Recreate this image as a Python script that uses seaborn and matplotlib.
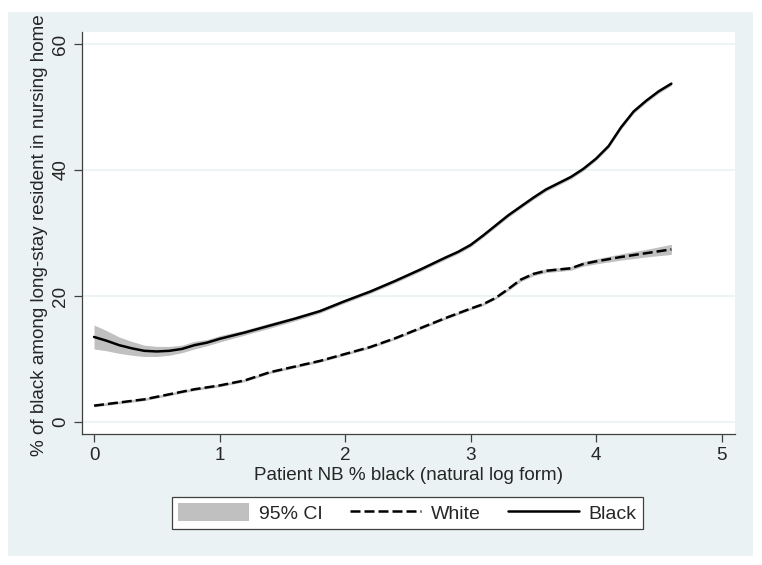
import numpy as np
import pandas as pd
import matplotlib
matplotlib.use("Agg")
import matplotlib.pyplot as plt
from matplotlib.patches import Rectangle, Patch
from matplotlib.lines import Line2D
import seaborn as sns

# ---- data ----
x_black = [0.0, 0.1, 0.2, 0.3, 0.4, 0.5, 0.6, 0.7, 0.8, 0.9, 1.0, 1.2, 1.4, 1.6, 1.8,
           2.0, 2.2, 2.4, 2.6, 2.8, 2.9, 3.0, 3.1, 3.2, 3.3, 3.4, 3.5, 3.6, 3.7, 3.8, 3.9,
           4.0, 4.1, 4.2, 4.3, 4.4, 4.5, 4.6]
y_black = [13.5, 12.9, 12.2, 11.7, 11.3, 11.2, 11.3, 11.6, 12.2, 12.6, 13.2, 14.2, 15.3, 16.4, 17.6,
           19.2, 20.7, 22.4, 24.2, 26.1, 27.0, 28.1, 29.6, 31.2, 32.8, 34.2, 35.6, 36.9, 37.9, 38.9, 40.2,
           41.8, 43.8, 46.8, 49.3, 51.0, 52.5, 53.7]
ci_black = [1.9, 1.6, 1.3, 1.1, 0.9, 0.8, 0.7, 0.6, 0.6, 0.5, 0.5, 0.4, 0.4, 0.35, 0.3,
            0.3, 0.3, 0.3, 0.3, 0.3, 0.3, 0.3, 0.3, 0.3, 0.3, 0.3, 0.3, 0.3, 0.3, 0.3, 0.3,
            0.3, 0.3, 0.3, 0.3, 0.3, 0.3, 0.3]

x_white = [0.0, 0.2, 0.4, 0.6, 0.8, 1.0, 1.2, 1.4, 1.6, 1.8, 2.0, 2.2, 2.4, 2.6, 2.8,
           3.0, 3.1, 3.2, 3.3, 3.4, 3.5, 3.6, 3.7, 3.8, 3.9, 4.0, 4.2, 4.4, 4.6]
y_white = [2.6, 3.1, 3.6, 4.4, 5.2, 5.8, 6.6, 7.9, 8.8, 9.7, 10.8, 11.9, 13.3, 14.9, 16.5,
           18.0, 18.7, 19.7, 21.1, 22.6, 23.5, 24.0, 24.2, 24.4, 25.1, 25.5, 26.2, 26.8, 27.4]
ci_white = [0.2, 0.2, 0.2, 0.2, 0.2, 0.2, 0.2, 0.2, 0.2, 0.2, 0.2, 0.2, 0.2, 0.2, 0.2,
            0.2, 0.2, 0.2, 0.25, 0.3, 0.3, 0.3, 0.3, 0.3, 0.35, 0.4, 0.5, 0.6, 0.8]

legend_labels = ["95% CI", "White", "Black"]
x_ticks = [0, 1, 2, 3, 4, 5]
y_ticks = [0, 20, 40, 60]
x_title = "Patient NB % black (natural log form)"
y_title = "% of black among long-stay resident in nursing home"

df = pd.concat([
    pd.DataFrame({"x": x_white, "y": y_white, "ci": ci_white, "group": "White"}),
    pd.DataFrame({"x": x_black, "y": y_black, "ci": ci_black, "group": "Black"}),
], ignore_index=True)

# ---- style ----
sns.set_style("white")
plt.rcParams["font.family"] = ["Liberation Sans", "DejaVu Sans"]
BG = "#EAF2F3"
BAND = "#C0C0C0"
FS = 13.6
FS_LEG = 14

fig = plt.figure(figsize=(7.62, 5.65), dpi=100, facecolor="white")
W, H = 762, 565
bg = Rectangle((8 / W, 1 - 556 / H), (753 - 8) / W, (556 - 12) / H,
               transform=fig.transFigure, facecolor=BG, edgecolor="none", zorder=-10)
fig.patches.append(bg)

ax = fig.add_axes([82 / W, 1 - 434 / H, (735 - 82) / W, (434 - 32) / H])
ax.set_zorder(1)
ax.set_facecolor("white")

# confidence bands
for g in ["White", "Black"]:
    d = df[df.group == g]
    ax.fill_between(d.x, d.y - d.ci, d.y + d.ci, color=BAND, linewidth=0, zorder=2)

sns.lineplot(data=df, x="x", y="y", hue="group", style="group",
             palette={"White": "black", "Black": "black"},
             dashes={"White": (4, 1.6), "Black": ""},
             linewidth=1.8, legend=False, ax=ax, zorder=3, sort=False)

ax.set_xlim(-0.096, 5.107)
ax.set_ylim(-1.9, 61.9)
ax.set_xticks(x_ticks)
ax.set_yticks(y_ticks)
ax.set_xticklabels([str(v) for v in x_ticks], fontsize=FS)
ax.set_yticklabels([str(v) for v in y_ticks], fontsize=FS, rotation=90, va="center")
ax.tick_params(axis="both", which="major", length=6, width=0.9, color="#404040",
               direction="out", pad=3, bottom=True, left=True)
ax.yaxis.grid(True, color=BG, linewidth=1.2, zorder=1)
ax.xaxis.grid(False)
ax.set_axisbelow(True)
for s in ["top", "right"]:
    ax.spines[s].set_visible(False)
for s in ["left", "bottom"]:
    ax.spines[s].set_color("#404040")
    ax.spines[s].set_linewidth(0.9)

ax.set_xlabel(x_title, fontsize=FS, labelpad=2)
ax.set_ylabel(y_title, fontsize=FS)
ax.yaxis.set_label_coords((40 - 82) / (735 - 82), 0.495)
ax.xaxis.set_label_coords(0.5, (434 - 476) / (434 - 32))
ax.xaxis.label.set_va("center")
ax.yaxis.label.set_va("center")

handles = [Patch(facecolor=BAND, edgecolor="none"),
           Line2D([], [], color="black", linewidth=1.8, dashes=(4, 1.6)),
           Line2D([], [], color="black", linewidth=1.8)]
leg = fig.legend(handles, legend_labels, ncol=3, fontsize=FS_LEG,
                 loc="center", bbox_to_anchor=((169 + 646) / 2 / W, 1 - 513 / H),
                 frameon=True, fancybox=False, edgecolor="#404040", facecolor="white",
                 handlelength=3.65, handleheight=1.0, columnspacing=1.4, handletextpad=0.5,
                 borderpad=0.35)
leg.get_frame().set_linewidth(0.9)
leg.get_frame().set_alpha(1)

fig.savefig("out.png", dpi=100, facecolor="white")
